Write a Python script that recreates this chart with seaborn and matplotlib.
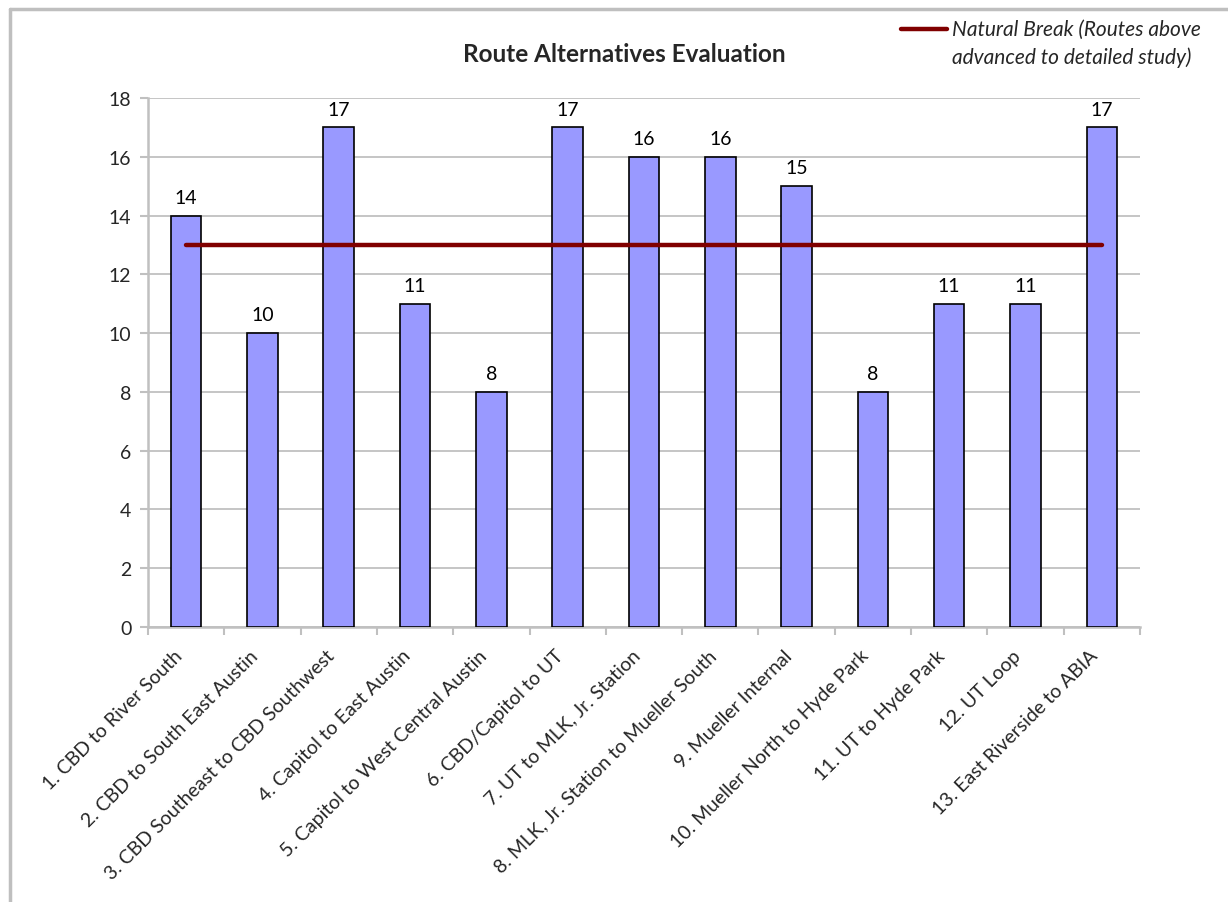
import matplotlib
matplotlib.use("Agg")
import matplotlib.pyplot as plt
from matplotlib.lines import Line2D
import numpy as np
import pandas as pd
import seaborn as sns

categories = [
    "1. CBD to River South",
    "2. CBD to South East Austin",
    "3. CBD Southeast to CBD Southwest",
    "4. Capitol to East Austin",
    "5. Capitol to West Central Austin",
    "6. CBD/Capitol to UT",
    "7. UT to MLK, Jr. Station",
    "8. MLK, Jr. Station to Mueller South",
    "9. Mueller Internal",
    "10. Mueller North to Hyde Park",
    "11. UT to Hyde Park",
    "12. UT Loop",
    "13. East Riverside to ABIA",
]
scores = [14, 10, 17, 11, 8, 17, 16, 16, 15, 8, 11, 11, 17]
natural_break = [13] * len(categories)
y_ticks = [0, 2, 4, 6, 8, 10, 12, 14, 16, 18]
title = "Route Alternatives Evaluation"
legend_label = "Natural Break (Routes above\nadvanced to detailed study)"

sns.set_theme(style="white")
plt.rcParams["font.family"] = ["Lato", "DejaVu Sans"]

df = pd.DataFrame({"route": categories, "score": scores})

fig = plt.figure(figsize=(12.28, 9.03), dpi=100)
ax = fig.add_axes([0.1205, 0.3045, 0.8078, 0.5859])

sns.barplot(data=df, x="route", y="score", color="#9999FF", saturation=1,
            edgecolor="black", linewidth=1.2, width=0.4, ax=ax, zorder=3)

pos = np.arange(len(categories))
ax.plot(pos, natural_break, color="#800000", lw=3.2, solid_capstyle="round", zorder=4)

for p, v in zip(pos, scores):
    ax.annotate(str(v), (p, v), xytext=(0, 7), textcoords="offset points",
                ha="center", va="bottom", fontsize=14, color="black")

ax.set_ylim(0, 18)
ax.set_xlim(-0.5, len(categories) - 0.5)
ax.set_yticks(y_ticks)
ax.yaxis.grid(True, color="#C0C0C0", lw=1.3, zorder=0)
ax.set_axisbelow(True)
ax.set_xlabel("")
ax.set_ylabel("")

# category labels (anchored slightly left of bar centres, as in the reference)
ax.set_xticks(pos - 0.17)
ax.set_xticklabels(categories, rotation=45, ha="right", rotation_mode="anchor", fontsize=14)
ax.set_xticks(np.arange(-0.5, len(categories), 1.0), minor=True)
ax.tick_params(axis="x", which="major", length=0, pad=14)
ax.tick_params(axis="x", which="minor", length=6, width=1.5, color="#C0C0C0", direction="out", bottom=True)
ax.tick_params(axis="y", length=6, width=1.5, color="#C0C0C0", direction="out", labelsize=14, pad=6, left=True)

for s in ["top", "right"]:
    ax.spines[s].set_visible(False)
for s in ["left", "bottom"]:
    ax.spines[s].set_color("#C0C0C0")
    ax.spines[s].set_linewidth(1.8)

fig.text(624 / 1228, 1 - 54 / 903, title, ha="center", va="center",
         fontsize=17.5, fontweight="bold")

# legend
fig.add_artist(Line2D([901 / 1228, 947 / 1228], [1 - 30 / 903, 1 - 30 / 903],
                      color="#800000", lw=3.2, solid_capstyle="round"))
fig.text(952 / 1228, 1 - 20 / 903, legend_label, ha="left", va="top",
         fontsize=15, fontstyle="italic", linespacing=1.45)

# chart frame
fig.add_artist(Line2D([10 / 1228, 1.0], [1 - 10 / 903, 1 - 10 / 903], color="#BFBFBF", lw=2.5))
fig.add_artist(Line2D([10 / 1228, 10 / 1228], [0.0, 1 - 10 / 903], color="#BFBFBF", lw=2.5))

fig.savefig("out.png", dpi=100)
